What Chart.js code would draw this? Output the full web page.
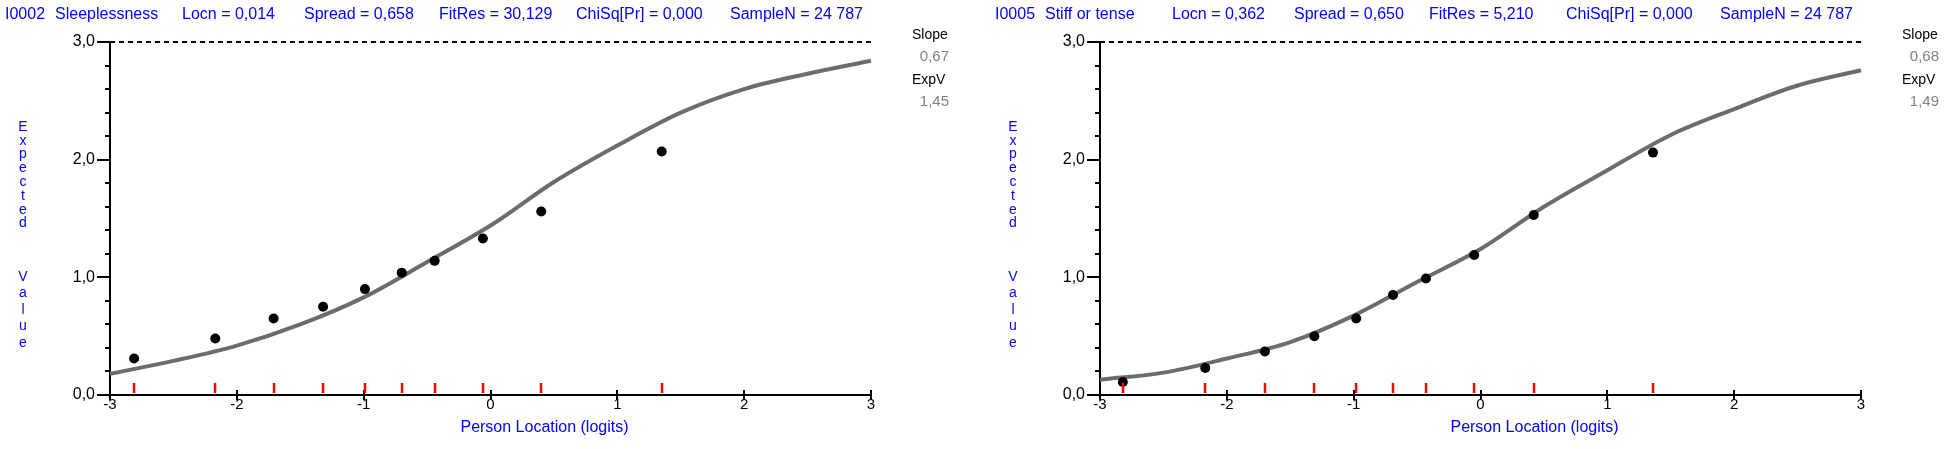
<!DOCTYPE html>
<html>
<head>
<meta charset="utf-8">
<script src="https://cdn.jsdelivr.net/npm/chart.js@4.4.1/dist/chart.umd.min.js"></script>
<style>
  html, body { margin: 0; padding: 0; background: #fff; overflow: hidden; }
  #wrap { position: relative; width: 1946px; height: 449px; }
  .pane { position: absolute; top: 0; height: 449px; }
</style>
</head>
<body>
<div id="wrap">
  <div class="pane" style="left:0;width:990px"><canvas id="c1" width="990" height="449"></canvas></div>
  <div class="pane" style="left:990px;width:956px"><canvas id="c2" width="956" height="449"></canvas></div>
</div>
<script>
// expected-value curve at every half logit
const logits = [-3, -2.5, -2, -1.5, -1, -0.5, 0, 0.5, 1, 1.5, 2, 2.5, 3];
const curveI0002 = [0.18, 0.29, 0.42, 0.60, 0.83, 1.13, 1.44, 1.81, 2.12, 2.40, 2.60, 2.73, 2.84];
const curveI0005 = [0.13, 0.19, 0.31, 0.45, 0.675, 0.96, 1.24, 1.60, 1.91, 2.21, 2.43, 2.63, 2.76];

// class intervals: mean location and observed mean
const classLocI0002 = [-2.81, -2.17, -1.71, -1.32, -0.99, -0.70, -0.44, -0.06, 0.40, 1.35];
const obsI0002 = [0.31, 0.48, 0.65, 0.75, 0.90, 1.04, 1.14, 1.33, 1.56, 2.07];
const classLocI0005 = [-2.82, -2.17, -1.70, -1.31, -0.98, -0.69, -0.43, -0.05, 0.42, 1.36];
const obsI0005 = [0.11, 0.23, 0.37, 0.50, 0.65, 0.85, 0.99, 1.19, 1.53, 2.06];

const titleI0002 = ['I0002', 'Sleeplessness', 'Locn = 0,014', 'Spread = 0,658', 'FitRes = 30,129', 'ChiSq[Pr] = 0,000', 'SampleN = 24 787'];
const titleI0005 = ['I0005', 'Stiff or tense', 'Locn = 0,362', 'Spread = 0,650', 'FitRes = 5,210', 'ChiSq[Pr] = 0,000', 'SampleN = 24 787'];
const slopeI0002 = '0,67', expVI0002 = '1,45';
const slopeI0005 = '0,68', expVI0005 = '1,49';

const yMax = 3;
const xTitle = 'Person Location (logits)';

const BLUE = 'rgb(0,0,255)';
const FONT = '"Liberation Sans", Arial, sans-serif';
const titleX = [5, 55, 182, 304, 439, 576, 730];

function line(ctx, x1, y1, x2, y2) {
    ctx.beginPath();
    ctx.moveTo(x1, y1);
    ctx.lineTo(x2, y2);
    ctx.stroke();
}

function decor(item) {
    return {
        id: 'decor',
        afterDraw(chart) {
            const ctx = chart.ctx, a = chart.chartArea;
            const xs = chart.scales.x, ys = chart.scales.y;
            ctx.save();

            // header line
            ctx.fillStyle = BLUE;
            ctx.font = '16px ' + FONT;
            ctx.textBaseline = 'middle';
            ctx.textAlign = 'left';
            item.title.forEach((t, i) => ctx.fillText(t, titleX[i], 15));

            // vertical axis title, one letter per line
            ctx.font = '14px ' + FONT;
            ctx.textAlign = 'center';
            'Expected'.split('').forEach((ch, i) => ctx.fillText(ch, 23, 127 + i * 13.8));
            'Value'.split('').forEach((ch, i) => ctx.fillText(ch, 23, 277 + i * 16.5));

            // horizontal axis title
            ctx.font = '16px ' + FONT;
            ctx.fillText(xTitle, xs.getPixelForValue(0) + 54, 428);

            // slope / expected value box
            ctx.textAlign = 'left';
            ctx.fillStyle = '#000';
            ctx.font = '14px ' + FONT;
            ctx.fillText('Slope', a.right + 41, 35);
            ctx.fillText('ExpV', a.right + 41, 80);
            ctx.fillStyle = '#808080';
            ctx.font = '15px ' + FONT;
            ctx.textAlign = 'right';
            ctx.fillText(item.slope, a.right + 78, 57);
            ctx.fillText(item.expV, a.right + 78, 102);

            // axis tick marks
            ctx.strokeStyle = '#000';
            ctx.lineWidth = 2;
            for (let v = 0; v <= yMax + 0.001; v += 0.2) {
                const p = Math.round(ys.getPixelForValue(v));
                const major = Math.abs(v - Math.round(v)) < 1e-6;
                line(ctx, a.left - (major ? 13 : 5), p, a.left, p);
            }
            for (let v = -3; v <= 3; v++) {
                const p = Math.round(xs.getPixelForValue(v));
                line(ctx, p, a.bottom - 5, p, a.bottom + 5);
            }

            // class interval markers
            ctx.strokeStyle = '#ff0000';
            ctx.lineWidth = 2.5;
            item.loc.forEach(v => {
                const p = Math.round(xs.getPixelForValue(v));
                line(ctx, p, a.bottom - 12, p, a.bottom - 2);
            });
            ctx.restore();
        }
    };
}

function makeChart(id, item, canvasW) {
    const ctx = document.getElementById(id).getContext('2d');
    return new Chart(ctx, {
        type: 'scatter',
        data: {
            datasets: [{
                label: 'Observed',
                data: item.loc.map((x, i) => ({ x: x, y: item.obs[i] })),
                backgroundColor: '#000',
                borderColor: '#000',
                pointRadius: 5,
                pointBorderWidth: 0,
                showLine: false
            }, {
                label: 'Expected',
                data: logits.map((x, i) => ({ x: x, y: item.curve[i] })),
                showLine: true,
                borderColor: '#6c6c6c',
                borderWidth: 4,
                pointRadius: 0,
                cubicInterpolationMode: 'monotone',
                clip: false
            }, {
                label: 'Max',
                data: [{ x: -3, y: yMax }, { x: 3, y: yMax }],
                showLine: true,
                borderColor: '#000',
                borderWidth: 2,
                borderDash: [5, 4],
                pointRadius: 0,
                clip: false
            }]
        },
        options: {
            responsive: false,
            devicePixelRatio: 1,
            animation: false,
            events: [],
            layout: { padding: { left: 0, top: 42, right: canvasW - 871, bottom: 0 } },
            scales: {
                x: {
                    type: 'linear',
                    min: -3,
                    max: 3,
                    afterFit: s => { s.height = 54; },
                    ticks: {
                        stepSize: 1,
                        padding: 1,
                        color: '#000',
                        font: { family: FONT, size: 15 },
                        callback: v => (v < 0 ? '-' + (-v) : '' + v)
                    },
                    grid: { drawOnChartArea: false, drawTicks: false },
                    border: { display: true, color: '#000', width: 2 }
                },
                y: {
                    min: 0,
                    max: yMax,
                    afterFit: s => { s.width = 110; },
                    ticks: {
                        stepSize: 1,
                        padding: 15,
                        color: '#000',
                        font: { family: FONT, size: 16 },
                        callback: v => v.toFixed(1).replace('.', ',')
                    },
                    grid: { drawOnChartArea: false, drawTicks: false },
                    border: { display: true, color: '#000', width: 2 }
                }
            },
            plugins: {
                legend: { display: false },
                tooltip: { enabled: false }
            }
        },
        plugins: [decor(item)]
    });
}

makeChart('c1', {
    title: titleI0002, slope: slopeI0002, expV: expVI0002,
    loc: classLocI0002, obs: obsI0002, curve: curveI0002
}, 990);
makeChart('c2', {
    title: titleI0005, slope: slopeI0005, expV: expVI0005,
    loc: classLocI0005, obs: obsI0005, curve: curveI0005
}, 956);
</script>
</body>
</html>
